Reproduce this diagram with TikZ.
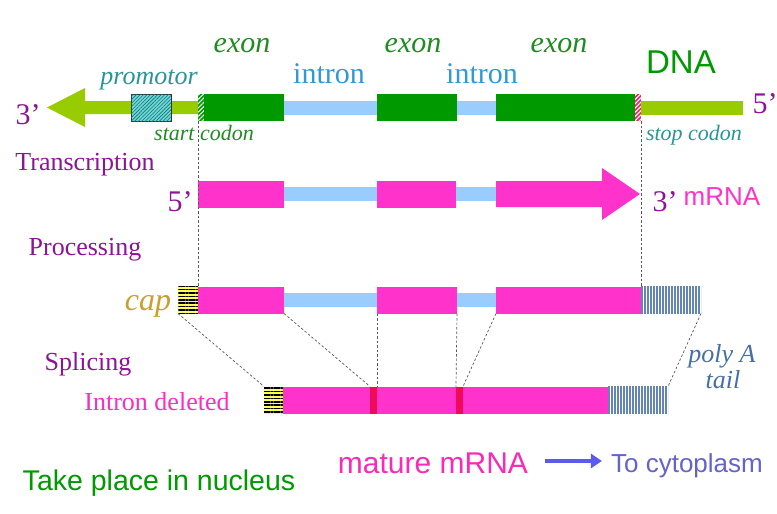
\documentclass[tikz,border=0pt]{standalone}
\usepackage{fontspec}
\setmainfont{Liberation Serif}
\newfontfamily\arialfont{Liberation Sans}
\usetikzlibrary{patterns.meta,arrows.meta}

\definecolor{dnagreen}{RGB}{0,153,0}
\definecolor{limegreen}{RGB}{153,204,0}
\definecolor{intronblue}{RGB}{153,204,255}
\definecolor{mrnapink}{RGB}{255,51,204}
\definecolor{labpurple}{RGB}{140,20,150}
\definecolor{exontext}{RGB}{30,140,30}
\definecolor{introntext}{RGB}{51,153,210}
\definecolor{tealtext}{RGB}{40,150,150}
\definecolor{promocyan}{RGB}{120,210,210}
\definecolor{stopred}{RGB}{230,40,110}
\definecolor{capgold}{RGB}{200,160,50}
\definecolor{capyellow}{RGB}{255,255,90}
\definecolor{polyblue}{RGB}{70,110,170}
\definecolor{junction}{RGB}{240,10,90}
\definecolor{cytoblue}{RGB}{100,100,200}
\definecolor{arrowblue}{RGB}{90,90,240}

\newcommand\txtsize[1]{\fontsize{#1}{#1}\selectfont}

\tikzset{
  seg/.style={inner sep=0pt, outer sep=0pt, anchor=west, minimum height=27pt},
  link/.style={seg, minimum height=14pt, fill=intronblue},
  exonbox/.style={seg, fill=#1},
  hatchbox/.style={seg, fill=#1, postaction={pattern={Lines[angle=45,distance=3pt,line width=1pt]}, pattern color=white}},
  capbox/.style={seg, fill=capyellow, postaction={pattern={Lines[angle=0,distance=3.4pt,line width=1.5pt]}, pattern color=black}},
  tailbox/.style={seg, postaction={pattern={Lines[angle=90,distance=3pt,line width=1.5pt]}, pattern color=polyblue!85}},
  guide/.style={dash pattern=on 2.5pt off 2pt, draw=black!65, line width=0.7pt},
  lbl/.style={inner sep=0pt, anchor=base, text=labpurple, font=\txtsize{26}},
}

\begin{document}
\begin{tikzpicture}[x=1pt,y=-1pt]
\useasboundingbox (0,0) rectangle (777,514);

% DNA
\fill[limegreen] (47,107.5) -- (85,88) -- (85,101) -- (198,101) -- (198,114) -- (85,114) -- (85,127) -- cycle;
\node[seg, minimum width=40pt, fill=promocyan, draw=black!80, line width=0.6pt,
  postaction={pattern={Lines[angle=45,distance=2.5pt,line width=0.6pt]}, pattern color=teal}] (promo) at (131,107.5) {};
\node[hatchbox=dnagreen, minimum width=6pt] (sc) at (198,107.5) {};
\node[exonbox=dnagreen, minimum width=80pt] (dx1) at (204,107.5) {};
\node[link, minimum width=93pt] (di1) at (284,107.5) {};
\node[exonbox=dnagreen, minimum width=80pt] (dx2) at (377,107.5) {};
\node[link, minimum width=39pt] (di2) at (457,107.5) {};
\node[exonbox=dnagreen, minimum width=139pt] (dx3) at (496,107.5) {};
\node[hatchbox=stopred, minimum width=6pt] (stop) at (635,107.5) {};
\node[link, fill=limegreen, minimum width=102pt] (dtail) at (641,107.5) {};

\node[lbl, text=exontext, font=\txtsize{30}\itshape] (ex1) at (242,52) {exon};
\node[lbl, text=exontext, font=\txtsize{30}\itshape] (ex2) at (413,52) {exon};
\node[lbl, text=exontext, font=\txtsize{30}\itshape] (ex3) at (559,52) {exon};
\node[lbl, text=introntext, font=\txtsize{30}] (in1) at (329,83) {intron};
\node[lbl, text=introntext, font=\txtsize{30}] (in2) at (482,83) {intron};
\node[lbl, text=tealtext, font=\txtsize{26}\itshape] (promolbl) at (149,84) {promotor};
\node[lbl, text=dnagreen, font=\txtsize{33}\arialfont] (dna) at (681,73) {DNA};
\node[lbl, font=\txtsize{30}] (d3) at (28,124) {3'};
\node[lbl, font=\txtsize{30}] (d5) at (765,113) {5'};
\node[lbl, text=exontext, font=\txtsize{22}\itshape] (sclbl) at (204,140) {start codon};
\node[lbl, text=tealtext, font=\txtsize{22}\itshape] (stoplbl) at (694,140) {stop codon};

% mRNA
\node[lbl] (trans) at (85,170) {Transcription};
\node[exonbox=mrnapink, minimum width=86pt] (mx1) at (198,194) {};
\node[link, minimum width=93pt] (mi1) at (284,194) {};
\node[exonbox=mrnapink, minimum width=79pt] (mx2) at (377,194) {};
\node[link, minimum width=40pt] (mi2) at (456,194) {};
\fill[mrnapink] (496,181) -- (602,181) -- (602,168) -- (640,194) -- (602,220) -- (602,207) -- (496,207) -- cycle;
\node[lbl, font=\txtsize{30}] (m5) at (180,211) {5'};
\node[lbl, font=\txtsize{30}] (m3) at (665,211) {3'};
\node[lbl, text=mrnapink, font=\txtsize{26}\arialfont] (mrna) at (722,205) {mRNA};

% processing
\node[lbl] (proc) at (85,255) {Processing};
\node[capbox, minimum width=20pt] (cap1) at (178,300) {};
\node[exonbox=mrnapink, minimum width=86pt] (px1) at (198,300) {};
\node[link, minimum width=93pt] (pi1) at (284,300) {};
\node[exonbox=mrnapink, minimum width=80pt] (px2) at (377,300) {};
\node[link, minimum width=39pt] (pi2) at (457,300) {};
\node[exonbox=mrnapink, minimum width=145pt] (px3) at (496,300) {};
\node[tailbox, minimum width=60pt] (tail1) at (641,300) {};
\node[lbl, text=capgold, font=\txtsize{32}\itshape] (caplbl) at (148,310) {cap};

% splicing
\node[lbl] (splice) at (88,370) {Splicing};
\node[lbl, text=mrnapink!90!purple] (deleted) at (157,410) {Intron deleted};
\node[capbox, minimum width=19pt] (cap2) at (264,400) {};
\node[exonbox=mrnapink, minimum width=325pt] (mat) at (283,400) {};
\node[exonbox=junction, minimum width=7pt] (j1) at (370,400) {};
\node[exonbox=junction, minimum width=7pt] (j2) at (456,400) {};
\node[tailbox, minimum width=60pt] (tail2) at (608,400) {};
\node[lbl, text=polyblue, font=\txtsize{26}\itshape] (poly) at (722,362) {poly A};
\node[lbl, text=polyblue, font=\txtsize{26}\itshape] (tail) at (723,388) {tail};

% guide lines
\draw[guide] (sc.south west) -- (px1.north west);
\draw[guide] (stop.south east) -- (px3.north east);
\draw[guide] (cap1.south west) -- (cap2.north west);
\draw[guide] (px1.south east) -- (j1.north west);
\draw[guide] (px2.south west) -- (j1.north east);
\draw[guide] (px2.south east) -- (j2.north west);
\draw[guide] (px3.south west) -- (j2.north east);
\draw[guide] (tail1.south east) -- (tail2.north east);

% bottom
\node[lbl, text=dnagreen, font=\txtsize{28.5}\arialfont] (nucleus) at (159,490) {Take place in nucleus};
\node[lbl, text=mrnapink!85!purple, font=\txtsize{30}\arialfont] (mature) at (433,473) {mature mRNA};
\node[lbl, text=cytoblue, font=\txtsize{26}\arialfont] (cyto) at (687,472) {To cytoplasm};
\draw[arrowblue, line width=4pt, -{Triangle[length=11pt,width=14pt]}, shorten <=17pt, shorten >=9pt] (mature.east |- 0,461) -- (cyto.west |- 0,461);
\end{tikzpicture}
\end{document}
